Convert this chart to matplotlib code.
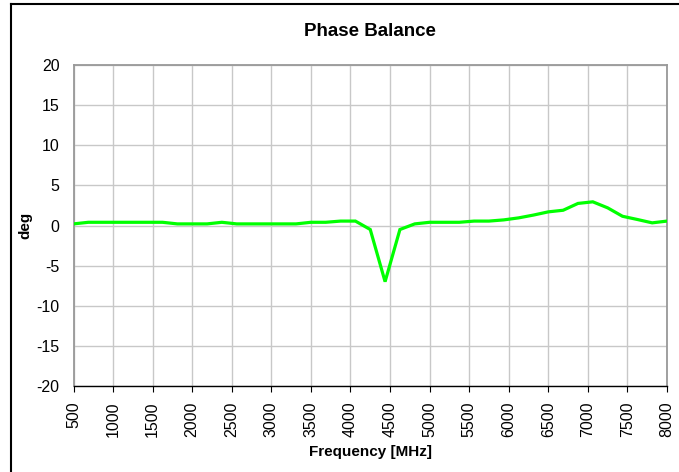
import matplotlib
matplotlib.use("Agg")
import matplotlib.pyplot as plt
from matplotlib.lines import Line2D

freq_mhz = [500, 687.5, 875, 1062.5, 1250, 1437.5, 1625, 1812.5, 2000, 2187.5,
            2375, 2562.5, 2750, 2937.5, 3125, 3312.5, 3500, 3687.5, 3875, 4062.5,
            4250, 4437.5, 4625, 4812.5, 5000, 5187.5, 5375, 5562.5, 5750, 5937.5,
            6125, 6312.5, 6500, 6687.5, 6875, 7062.5, 7250, 7437.5, 7625, 7812.5, 8000]
phase_deg = [0.2, 0.4, 0.4, 0.4, 0.4, 0.4, 0.4, 0.2, 0.2, 0.2,
             0.4, 0.2, 0.2, 0.2, 0.2, 0.2, 0.4, 0.4, 0.55, 0.55,
             -0.5, -7.0, -0.5, 0.2, 0.4, 0.4, 0.4, 0.55, 0.55, 0.7,
             0.95, 1.3, 1.7, 1.9, 2.75, 2.95, 2.2, 1.15, 0.75, 0.33, 0.55]
x_ticks = list(range(500, 8001, 500))
y_ticks = list(range(-20, 21, 5))

plt.rcParams['font.family'] = ['Liberation Sans', 'DejaVu Sans']

fig = plt.figure(figsize=(6.79, 4.72), dpi=100)
ax = fig.add_axes([73.5/679, 1-386/472, (667-73.5)/679, (386-65)/472])

ax.plot(freq_mhz, phase_deg, color='#00ff00', linewidth=2.3, solid_joinstyle='miter', zorder=3)

ax.set_xlim(500, 8000)
ax.set_ylim(-20, 20)
ax.set_xticks(x_ticks)
ax.set_yticks(y_ticks)
ax.set_xticklabels([str(t) for t in x_ticks], rotation=90, fontsize=11.5)
ax.set_yticklabels([str(t) for t in y_ticks], fontsize=11.5)
ax.grid(True, color='#c8c8c8', linewidth=1.0)
ax.set_axisbelow(True)

for s in ['top', 'right', 'left']:
    ax.spines[s].set_color('#999999')
    ax.spines[s].set_linewidth(1.3)
ax.spines['bottom'].set_color('black')
ax.spines['bottom'].set_linewidth(1.0)
ax.tick_params(axis='y', length=0, pad=10)
ax.tick_params(axis='x', length=4, direction='out', pad=7, color='black')

ax.set_xlabel('Frequency [MHz]', fontsize=11, fontweight='bold', labelpad=6)
ax.set_ylabel('deg', fontsize=11, fontweight='bold')
ax.yaxis.set_label_coords((25 - 73.5) / 593.5, 0.5)
ax.yaxis.label.set_va('center')
fig.text(0.5*(73.5+667)/679, 1-32/472, 'Phase Balance', ha='center', va='center',
         fontsize=13.5, fontweight='bold')

fig.add_artist(Line2D([11/679, 1.0], [1-3.5/472, 1-3.5/472], transform=fig.transFigure,
                      color='black', linewidth=1.5))
fig.add_artist(Line2D([11/679, 11/679], [1-3.5/472, 0], transform=fig.transFigure,
                      color='black', linewidth=1.5))

fig.savefig('out.png', dpi=100)
